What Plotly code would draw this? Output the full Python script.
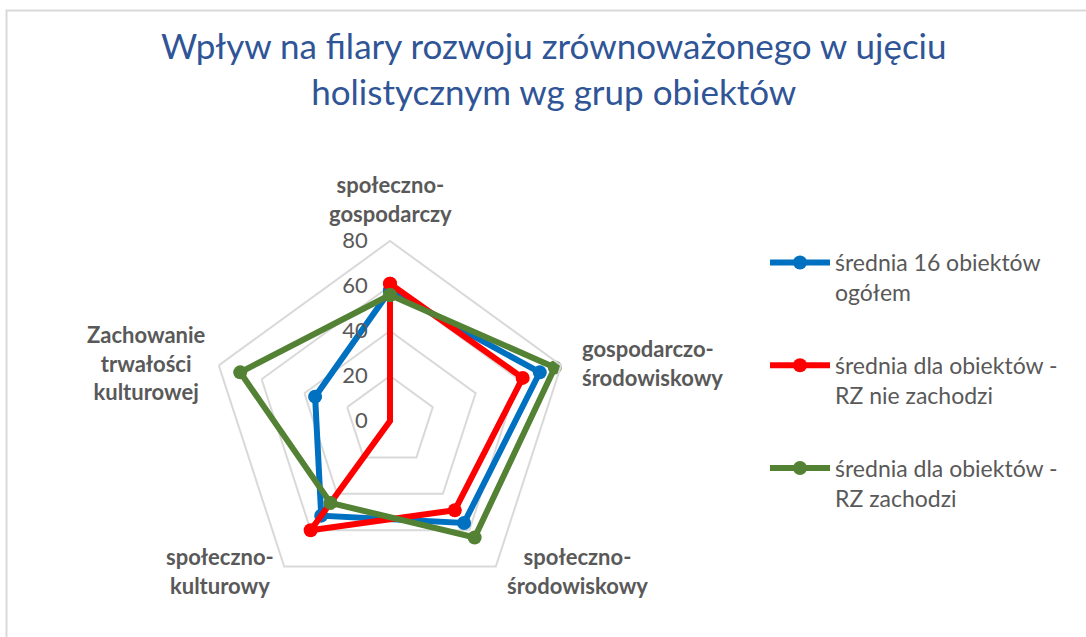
import plotly.graph_objects as go

# Pillars of sustainable development (radar axes)
categories = [
    "społeczno-gospodarczy",
    "gospodarczo-środowiskowy",
    "społeczno-środowiskowy",
    "społeczno-kulturowy",
    "Zachowanie trwałości kulturowej",
]
# Axis labels as shown around the chart
axis_labels = [
    "społeczno-<br>gospodarczy",
    "gospodarczo-<br>środowiskowy",
    "społeczno-<br>środowiskowy",
    "społeczno-<br>kulturowy",
    "Zachowanie<br>trwałości<br>kulturowej",
]

series_names = [
    "średnia 16 obiektów<br>ogółem",
    "średnia dla obiektów -<br>RZ nie zachodzi",
    "średnia dla obiektów -<br>RZ zachodzi",
]
avg_all = [58, 70, 56, 52, 35]
avg_rz_no = [61, 62, 49, 60, 0]
avg_rz_yes = [56, 77, 64, 45, 70]

radial_ticks = [0, 20, 40, 60, 80]

colors = ["#0070C0", "#FF0000", "#548235"]
FONT = "Lato"
GREY = "#595959"

fig = go.Figure()
for name, vals, col in zip(series_names, [avg_all, avg_rz_no, avg_rz_yes], colors):
    fig.add_trace(go.Scatterpolar(
        r=vals + vals[:1],
        theta=categories + categories[:1],
        mode="lines+markers",
        name=name,
        legendgroup=name,
        line=dict(color=col, width=6),
        marker=dict(color=col, size=14),
        cliponaxis=False,
    ))

# polar area: centre (390, 421) px, radius 180 px
W, H = 1086, 637
cx, cy, R = 390, 421, 180
fig.update_layout(
    width=W, height=H,
    margin=dict(l=0, r=0, t=0, b=0),
    paper_bgcolor="white",
    plot_bgcolor="white",
    font=dict(family=FONT, color=GREY),
    polar=dict(
        domain=dict(x=[(cx - R) / W, (cx + R) / W],
                    y=[(H - cy - R) / H, (H - cy + R) / H]),
        gridshape="linear",
        bgcolor="white",
        radialaxis=dict(
            range=[0, 80],
            tickvals=radial_ticks,
            angle=90,
            tickangle=90,
            side="counterclockwise",
            showline=False,
            ticks="outside",
            ticklen=14,
            tickcolor="rgba(0,0,0,0)",
            gridcolor="#D9D9D9",
            gridwidth=2,
            tickfont=dict(family=FONT, size=22, color=GREY),
        ),
        angularaxis=dict(
            direction="clockwise",
            rotation=90,
            showgrid=False,
            showline=True,
            linecolor="#D9D9D9",
            linewidth=2,
            showticklabels=False,
            ticks="",
        ),
    ),
    legend=dict(
        x=765 / W, y=1 - 241 / H, xanchor="left", yanchor="top",
        font=dict(family=FONT, size=23, color=GREY),
        itemwidth=60,
        tracegroupgap=40,
        valign="top",
        bgcolor="rgba(0,0,0,0)",
    ),
)

# chart title
fig.add_annotation(
    x=554 / W, y=1 - 68 / H, xref="paper", yref="paper",
    text="Wpływ na filary rozwoju zrównoważonego w ujęciu<br>holistycznym wg grup obiektów",
    showarrow=False, xanchor="center", yanchor="middle", align="center",
    font=dict(family=FONT, size=35, color="#2F5597"),
)

# category labels around the radar
label_pos = [
    (390, 229, "center", "bottom", "center"),
    (580, 363, "left", "middle", "left"),
    (577, 571, "center", "middle", "center"),
    (220, 571, "center", "middle", "center"),
    (146, 363, "center", "middle", "center"),
]
for txt, (x, y, xa, ya, al) in zip(axis_labels, label_pos):
    fig.add_annotation(
        x=x / W, y=1 - y / H, xref="paper", yref="paper",
        text=f"<b>{txt}</b>", showarrow=False,
        xanchor=xa, yanchor=ya, align=al,
        font=dict(family=FONT, size=22, color=GREY),
    )

# chart-area border
fig.add_shape(type="rect", xref="paper", yref="paper",
              x0=6.5 / W, x1=1.1, y0=-0.1, y1=1 - 10.5 / H,
              line=dict(color="#D9D9D9", width=2), layer="below")

fig.write_html("out.html")
